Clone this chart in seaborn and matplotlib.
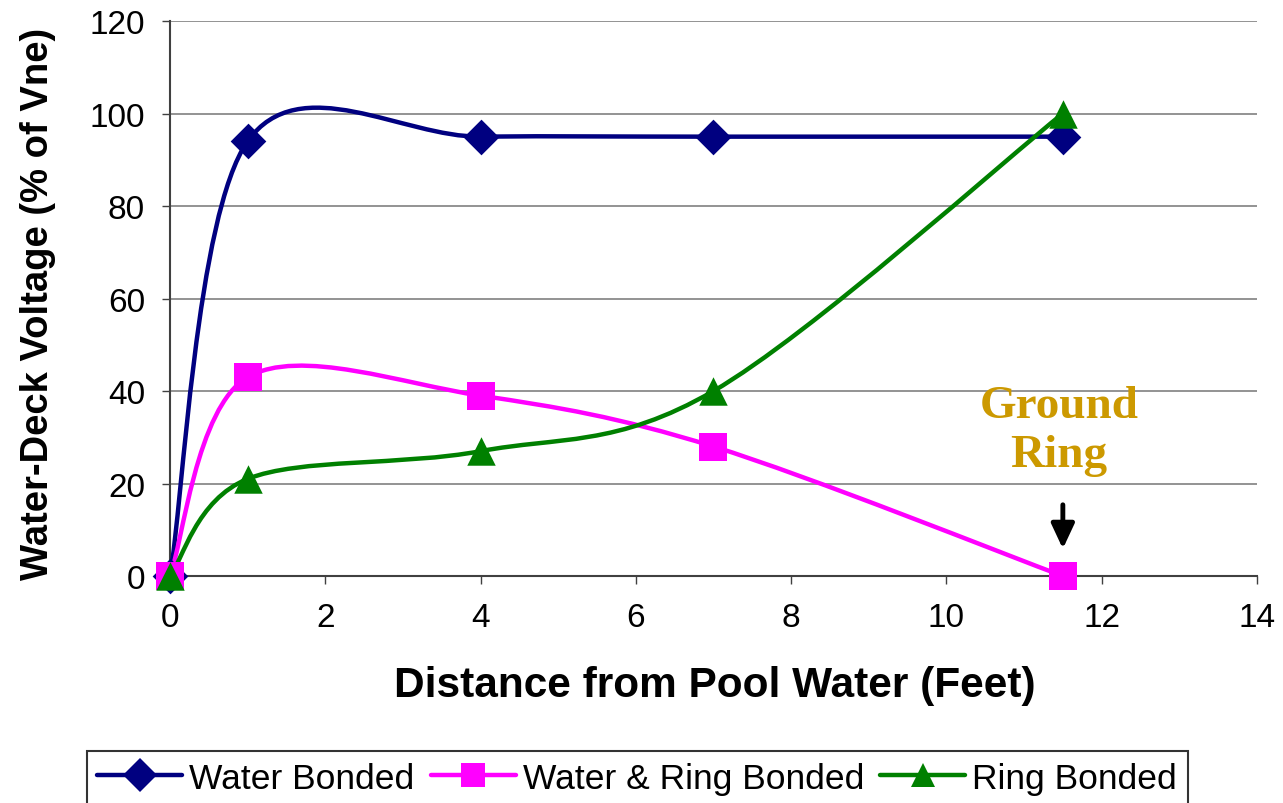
import matplotlib
matplotlib.use("Agg")
import matplotlib.pyplot as plt
import numpy as np
import pandas as pd
import seaborn as sns
from matplotlib.lines import Line2D
from matplotlib.patches import PathPatch
from matplotlib.path import Path

# values
distance = [0, 1, 4, 7, 11.5]
water_bonded = [0, 94, 95, 95, 95]
water_ring_bonded = [0, 43, 39, 28, 0]
ring_bonded = [0, 21, 27, 40, 100]
series_names = ["Water Bonded", "Water & Ring Bonded", "Ring Bonded"]
x_ticks = [0, 2, 4, 6, 8, 10, 12, 14]
y_ticks = [0, 20, 40, 60, 80, 100, 120]

colors = {"Water Bonded": "#000080", "Water & Ring Bonded": "#FF00FF", "Ring Bonded": "#008000"}
markers = {"Water Bonded": "D", "Water & Ring Bonded": "s", "Ring Bonded": "^"}

df = pd.DataFrame({
    "distance": distance * 3,
    "voltage": water_bonded + water_ring_bonded + ring_bonded,
    "series": [s for s in series_names for _ in distance],
})


def smooth_path(xs, ys):
    # excel style smoothed line: bezier segments through the data points
    pts = np.column_stack([xs, ys]).astype(float)
    n = len(pts)
    verts = [pts[0]]
    codes = [Path.MOVETO]
    for i in range(n - 1):
        p0 = pts[max(i - 1, 0)]
        p1 = pts[i]
        p2 = pts[i + 1]
        p3 = pts[min(i + 2, n - 1)]
        verts += [p1 + (p2 - p0) / 6, p2 - (p3 - p1) / 6, p2]
        codes += [Path.CURVE4] * 3
    return Path(verts, codes)


sns.set_style("white")
plt.rcParams["font.family"] = ["Liberation Sans", "DejaVu Sans"]
plt.rcParams["text.color"] = "black"
plt.rcParams["axes.labelcolor"] = "black"
plt.rcParams["xtick.color"] = "black"
plt.rcParams["ytick.color"] = "black"

fig = plt.figure(figsize=(12.83, 8.04), dpi=100)
ax = fig.add_axes([0.1325, 0.2823, 0.8472, 0.6903])

for name in series_names:
    sub = df[df["series"] == name]
    ax.add_patch(PathPatch(smooth_path(sub["distance"], sub["voltage"]),
                           facecolor="none", edgecolor=colors[name], lw=3.2, zorder=3))

sizes = {"Water Bonded": 330, "Water & Ring Bonded": 400, "Ring Bonded": 420}
for name in series_names:
    sns.scatterplot(data=df[df["series"] == name], x="distance", y="voltage",
                    marker=markers[name], color=colors[name], s=sizes[name],
                    linewidth=0, clip_on=False, zorder=4, ax=ax, legend=False)

ax.set_xlim(0, 14)
ax.set_ylim(0, 120)
ax.set_xticks(x_ticks)
ax.set_yticks(y_ticks)
ax.yaxis.grid(True, color="#808080", lw=1.2)
ax.xaxis.grid(False)
ax.set_axisbelow(True)
for side in ["top", "right"]:
    ax.spines[side].set_visible(False)
for side in ["left", "bottom"]:
    ax.spines[side].set_color("#404040")
    ax.spines[side].set_linewidth(1.5)
ax.tick_params(axis="both", direction="out", length=6, width=1, color="#404040", labelsize=24)
ax.tick_params(axis="x", pad=13)
ax.tick_params(axis="y", pad=12, left=True)
ax.tick_params(axis="x", bottom=True)

ax.set_xlabel("Distance from Pool Water (Feet)", fontsize=30.5, fontweight="bold")
ax.set_ylabel("Water-Deck Voltage (% of Vne)", fontsize=27.5, fontweight="bold")
ax.xaxis.set_label_coords(0.501, -0.16)
ax.yaxis.set_label_coords(-0.105, 0.492)

ax.text(11.45, 31.5, "Ground\nRing", ha="center", va="center", fontsize=34,
        fontweight="bold", color="#CC9900", family=["Liberation Serif", "DejaVu Serif"])
ax.annotate("", xy=(11.5, 5.3), xytext=(11.5, 16.0),
            arrowprops=dict(arrowstyle="-|>,head_width=0.35,head_length=0.75",
                            mutation_scale=20, color="black", lw=3.5))

handles = [Line2D([], [], color=colors[n], marker=markers[n], lw=3.2, markersize=17,
                  markeredgewidth=0) for n in series_names]
leg = fig.legend(handles, series_names, loc="upper center", bbox_to_anchor=(0.4966, 0.0647),
                 ncol=3, fontsize=25.5, frameon=True, fancybox=False, handlelength=2.4,
                 handletextpad=0.2, columnspacing=0.45, borderpad=0.3, borderaxespad=0)
leg.get_frame().set_edgecolor("black")
leg.get_frame().set_linewidth(1.5)

fig.savefig("out.png", dpi=100)
